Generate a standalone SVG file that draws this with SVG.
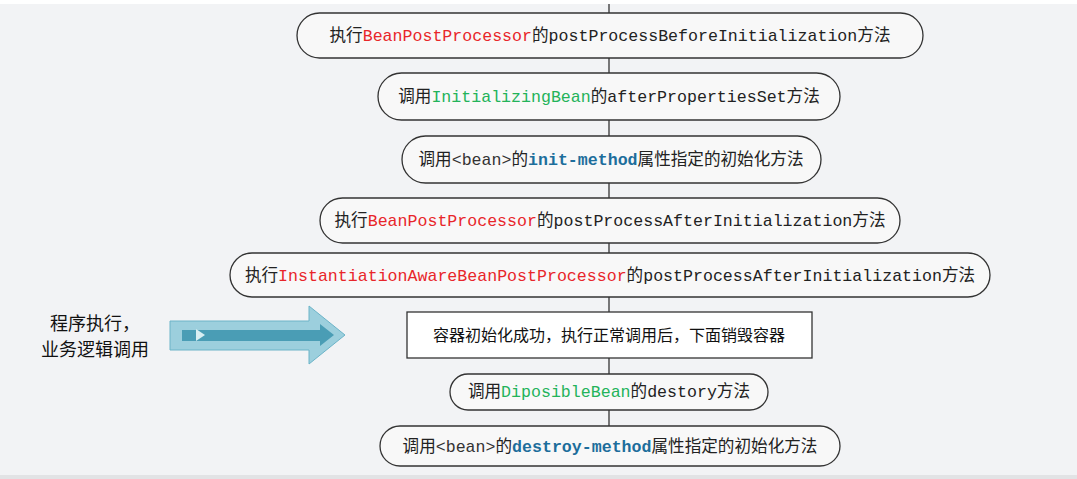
<svg xmlns="http://www.w3.org/2000/svg" width="1077" height="479" viewBox="0 0 1077 479">
<style>
.n{fill:#f8f8f8;stroke:#333;stroke-width:1.3}
.t{font-family:"Liberation Mono","Noto Sans CJK SC",monospace;font-size:16.6px;fill:#222;text-anchor:middle}
.r{fill:#e8262a}.g{fill:#23b35a}.b{fill:#1d6e9c;font-weight:bold}.k{fill:#333}
.c{font-family:"Noto Sans CJK SC",sans-serif;font-size:18px;fill:#111}
</style>
<rect width="1077" height="479" fill="#f2f3f5"/>
<rect width="1077" height="4" fill="#fff"/>
<rect y="475" width="1077" height="4" fill="#e2e3e5"/>
<g id="connectors"><line x1="609" y1="4" x2="609" y2="426" stroke="#333" stroke-width="1.3"/></g>
<g id="n1"><rect class="n" x="297" y="13" width="626" height="45" rx="22.5"/><text class="t" x="610" y="41">执行<tspan class="r">BeanPostProcessor</tspan>的postProcessBeforeInitialization方法</text></g>
<g id="n2"><rect class="n" x="378" y="73" width="462" height="47" rx="23.5"/><text class="t" x="609" y="102">调用<tspan class="g">InitializingBean</tspan>的afterPropertiesSet方法</text></g>
<g id="n3"><rect class="n" x="402" y="136" width="419" height="47" rx="23.5"/><text class="t" x="611" y="165">调用<tspan class="k">&lt;bean&gt;</tspan>的<tspan class="b">init-method</tspan>属性指定的初始化方法</text></g>
<g id="n4"><rect class="n" x="320" y="198" width="580" height="45" rx="22.5"/><text class="t" x="610" y="226">执行<tspan class="r">BeanPostProcessor</tspan>的postProcessAfterInitialization方法</text></g>
<g id="n5"><rect class="n" x="230" y="253" width="760" height="44" rx="22"/><text class="t" x="610" y="281">执行<tspan class="r">InstantiationAwareBeanPostProcessor</tspan>的postProcessAfterInitialization方法</text></g>
<g id="n6"><rect x="407" y="312" width="405" height="46" fill="#fff" stroke="#333" stroke-width="1.3"/><text class="c" x="609" y="341" text-anchor="middle" style="font-size:16px">容器初始化成功，执行正常调用后，下面销毁容器</text></g>
<g id="n7"><rect class="n" x="450" y="374" width="318" height="36" rx="18"/><text class="t" x="609" y="397">调用<tspan class="g">DiposibleBean</tspan>的destory方法</text></g>
<g id="n8"><rect class="n" x="380" y="426" width="460" height="40" rx="20"/><text class="t" x="610" y="452">调用<tspan class="k">&lt;bean&gt;</tspan>的<tspan class="b">destroy-method</tspan>属性指定的初始化方法</text></g>
<g id="arrow">
<polygon points="170,321 309,321 309,306 345,335 309,364 309,350 170,350" fill="#9ccfdd" stroke="#6cb4c8"/>
<polygon points="182,330 320,330 320,324 334,335 320,346 320,341 182,341" fill="#4a9db5"/>
<polygon points="196,329 205,335 196,341" fill="#d8eef2"/>
</g>
<g id="label"><text class="c" x="95" y="330" text-anchor="middle">程序执行，</text><text class="c" x="95" y="356" text-anchor="middle">业务逻辑调用</text></g>
</svg>
